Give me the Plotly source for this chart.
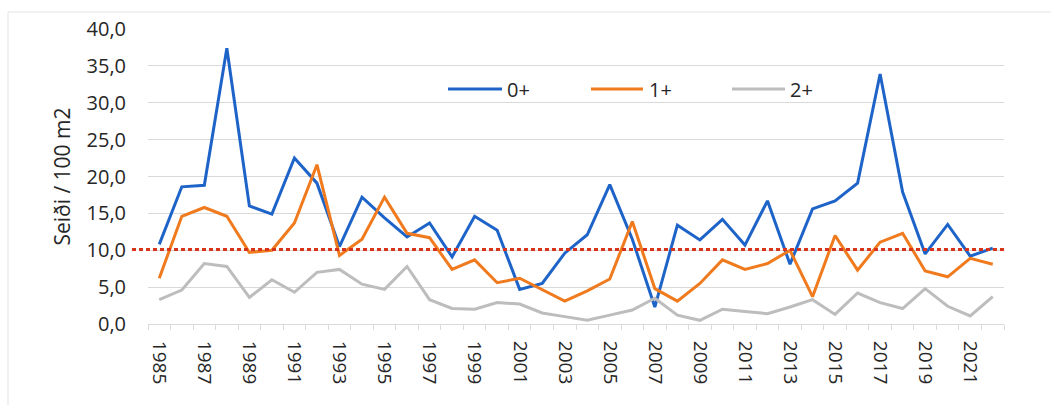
import plotly.graph_objects as go

years = list(range(1985, 2023))
age0 = [10.8, 18.6, 18.8, 37.4, 16.0, 14.9, 22.5, 19.1, 10.5, 17.2, 14.4, 11.8, 13.7,
        9.1, 14.6, 12.7, 4.7, 5.5, 9.6, 12.1, 18.9, 11.5, 2.3, 13.4, 11.4, 14.2, 10.7,
        16.7, 8.1, 15.6, 16.7, 19.1, 33.9, 17.9, 9.5, 13.5, 9.2, 10.3]
age1 = [6.2, 14.6, 15.8, 14.6, 9.7, 10.0, 13.7, 21.6, 9.3, 11.5, 17.2, 12.3, 11.7,
        7.4, 8.7, 5.6, 6.2, 4.6, 3.1, 4.5, 6.1, 13.9, 4.8, 3.1, 5.5, 8.7, 7.4,
        8.2, 10.0, 3.7, 12.0, 7.3, 11.1, 12.3, 7.2, 6.4, 8.9, 8.1]
age2 = [3.3, 4.6, 8.2, 7.8, 3.6, 6.0, 4.3, 7.0, 7.4, 5.4, 4.7, 7.8, 3.3,
        2.1, 2.0, 2.9, 2.7, 1.5, 1.0, 0.5, 1.2, 1.9, 3.5, 1.2, 0.5, 2.0, 1.7,
        1.4, 2.3, 3.3, 1.3, 4.2, 2.9, 2.1, 4.8, 2.4, 1.1, 3.7]
series_names = ["0+", "1+", "2+"]
reference_level = 10.1
tick_years = list(range(1985, 2023, 2))

colors = ["#1E64C8", "#F07A1E", "#BDBDBD"]
font_family = "Open Sans, DejaVu Sans, sans-serif"
text_color = "#262626"

W, H = 1051, 405
ML, MR, MT, MB = 148, 47, 29, 81
PW, PH = W - ML - MR, H - MT - MB


def px_x(p):
    return (p - ML) / PW


def px_y(p):
    return (H - MB - p) / PH


fig = go.Figure()
for name, vals, col in zip(series_names, [age0, age1, age2], colors):
    fig.add_trace(go.Scatter(x=years, y=vals, name=name, mode="lines",
                             line=dict(color=col, width=3), showlegend=False))

# red dotted reference line
fig.add_shape(type="line", xref="paper", yref="y", x0=px_x(132), x1=px_x(1004),
              y0=reference_level, y1=reference_level,
              line=dict(color="#D8341C", width=3, dash="4px,3px"), layer="above")

# faint chart border (top and left)
fig.add_shape(type="line", xref="paper", yref="paper", x0=px_x(8), x1=px_x(1051),
              y0=px_y(12), y1=px_y(12), line=dict(color="#E3E3E3", width=1))
fig.add_shape(type="line", xref="paper", yref="paper", x0=px_x(8), x1=px_x(8),
              y0=px_y(12), y1=px_y(405), line=dict(color="#E3E3E3", width=1))

# manual legend (line sample + label)
legend_px = [(448, 502, 505), (591, 643, 647), (732, 785, 788)]
legend_y = 89
for name, col, (x0, x1, xt) in zip(series_names, colors, legend_px):
    fig.add_shape(type="line", xref="paper", yref="paper",
                  x0=px_x(x0), x1=px_x(x1), y0=px_y(legend_y), y1=px_y(legend_y),
                  line=dict(color=col, width=3))
    fig.add_annotation(xref="paper", yref="paper", x=px_x(xt), y=px_y(legend_y),
                       xanchor="left", yanchor="middle", showarrow=False, text=name,
                       font=dict(family=font_family, size=20, color=text_color))

fig.update_layout(
    width=W, height=H,
    margin=dict(l=ML, r=MR, t=MT, b=MB, autoexpand=False),
    paper_bgcolor="white", plot_bgcolor="white",
    separators=", ",
    font=dict(family=font_family, size=20, color=text_color),
    showlegend=False,
)
fig.update_xaxes(
    range=[1984.5, 2022.5],
    tickvals=tick_years, ticktext=[str(y) for y in tick_years],
    tickangle=90, ticks="", showgrid=False,
    showline=True, linecolor="#D9D9D9", linewidth=1,
    tickfont=dict(size=19, color=text_color),
    ticklabelstandoff=12,
    minor=dict(tick0=1984.5, dtick=1, ticks="outside", ticklen=5,
               tickcolor="#D9D9D9", showgrid=False),
    zeroline=False,
)
fig.update_yaxes(
    range=[0, 40], dtick=5, tickformat=".1f",
    showgrid=True, gridcolor="#D9D9D9", gridwidth=1,
    zeroline=False, showline=False, ticks="",
    tickfont=dict(size=20, color=text_color),
    ticklabelstandoff=21,
    title=dict(text="Seiði / 100 m2", font=dict(size=21, color=text_color), standoff=10),
)

fig.write_html("out.html", config={"displayModeBar": False},
               post_script="document.body.style.margin='0';")
